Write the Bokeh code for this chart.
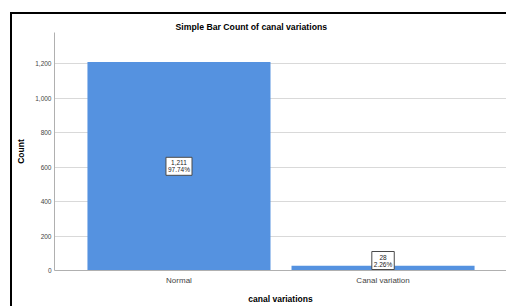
from bokeh.plotting import figure
from bokeh.models import Range1d, FixedTicker, NumeralTickFormatter, Label, InlineStyleSheet
from bokeh.embed import file_html
from bokeh.resources import INLINE

categories = ["Normal", "Canal variation"]
counts = [1211, 28]
y_ticks = [0, 200, 400, 600, 800, 1000, 1200]
title_text = "Simple Bar Count of canal variations"
x_label = "canal variations"
y_label = "Count"

total = sum(counts)
pcts = [c / total * 100 for c in counts]

FONT = "Liberation Sans"
BAR = "#5592e0"

p = figure(width=506, height=306, output_backend="svg", toolbar_location=None,
           x_range=Range1d(-0.61, 1.605), y_range=Range1d(0, 1383),
           min_border_left=54, min_border_right=0, min_border_top=32, min_border_bottom=36,
           title=title_text)
# outer document frame (left and top edges) drawn as the host element background
p.stylesheets = [InlineStyleSheet(css=(
    ":host { background: "
    "linear-gradient(to right, transparent 10px, #000 10px, #000 12.5px, transparent 12.5px) 0 12px / 100% 100% no-repeat, "
    "linear-gradient(to bottom, transparent 12px, #000 12px, #000 14.5px, transparent 14.5px) 10px 0 / 100% 100% no-repeat, "
    "#fff; }"))]
p.background_fill_color = "white"
p.border_fill_alpha = 0
p.outline_line_color = None

p.title.text_font = FONT
p.title.text_font_size = "8.7px"
p.title.text_font_style = "bold"
p.title.text_color = "black"
p.title.align = "left"
p.title.offset = 121
p.title.standoff = 2

xs = list(range(len(categories)))
p.vbar(x=xs, top=counts, width=0.897, fill_color=BAR, line_color=None)

for i, (c, pc) in enumerate(zip(counts, pcts)):
    txt = f"{c:,}\n{pc:.2f}%"
    if c > 200:
        lab = Label(x=i, y=c / 2, text=txt, text_align="center", text_baseline="middle")
    else:
        lab = Label(x=i, y=0, y_offset=1, text=txt, text_align="center", text_baseline="bottom")
    lab.text_font = FONT
    lab.text_font_size = "6.5px"
    lab.text_color = "#222222"
    lab.text_line_height = 1.0
    lab.background_fill_color = "white"
    lab.border_line_color = "#4a4a4a"
    lab.border_line_width = 1
    lab.padding = 2
    p.add_layout(lab)

# x axis
p.xaxis.ticker = FixedTicker(ticks=xs)
p.xaxis.major_label_overrides = {i: c for i, c in enumerate(categories)}
p.xaxis.major_tick_line_color = None
p.xaxis.major_tick_out = 0
p.xaxis.major_tick_in = 0
p.xaxis.minor_tick_line_color = None
p.xaxis.axis_line_color = "#b0b0b0"
p.xaxis.major_label_text_font = FONT
p.xaxis.major_label_text_font_size = "8px"
p.xaxis.major_label_text_color = "#444444"
p.xaxis.major_label_standoff = 5
p.xaxis.axis_label = x_label
p.xaxis.axis_label_text_font = FONT
p.xaxis.axis_label_text_font_size = "8.5px"
p.xaxis.axis_label_text_font_style = "bold"
p.xaxis.axis_label_text_color = "black"
p.xaxis.axis_label_standoff = 6

# y axis
p.yaxis.ticker = FixedTicker(ticks=y_ticks)
p.yaxis.formatter = NumeralTickFormatter(format="0,0")
p.yaxis.major_tick_line_color = None
p.yaxis.major_tick_out = 0
p.yaxis.major_tick_in = 0
p.yaxis.minor_tick_line_color = None
p.yaxis.axis_line_color = "#b0b0b0"
p.yaxis.major_label_text_font = FONT
p.yaxis.major_label_text_font_size = "6.5px"
p.yaxis.major_label_text_color = "#444444"
p.yaxis.major_label_standoff = 3
p.yaxis.axis_label = y_label
p.yaxis.axis_label_text_font = FONT
p.yaxis.axis_label_text_font_size = "8.5px"
p.yaxis.axis_label_text_font_style = "bold"
p.yaxis.axis_label_text_color = "black"
p.yaxis.axis_label_standoff = 6

p.xgrid.visible = False
p.ygrid.ticker = FixedTicker(ticks=y_ticks)
p.ygrid.grid_line_color = "#d9d9d9"
p.ygrid.grid_line_width = 1

open("out.html", "w").write(file_html(p, INLINE))
